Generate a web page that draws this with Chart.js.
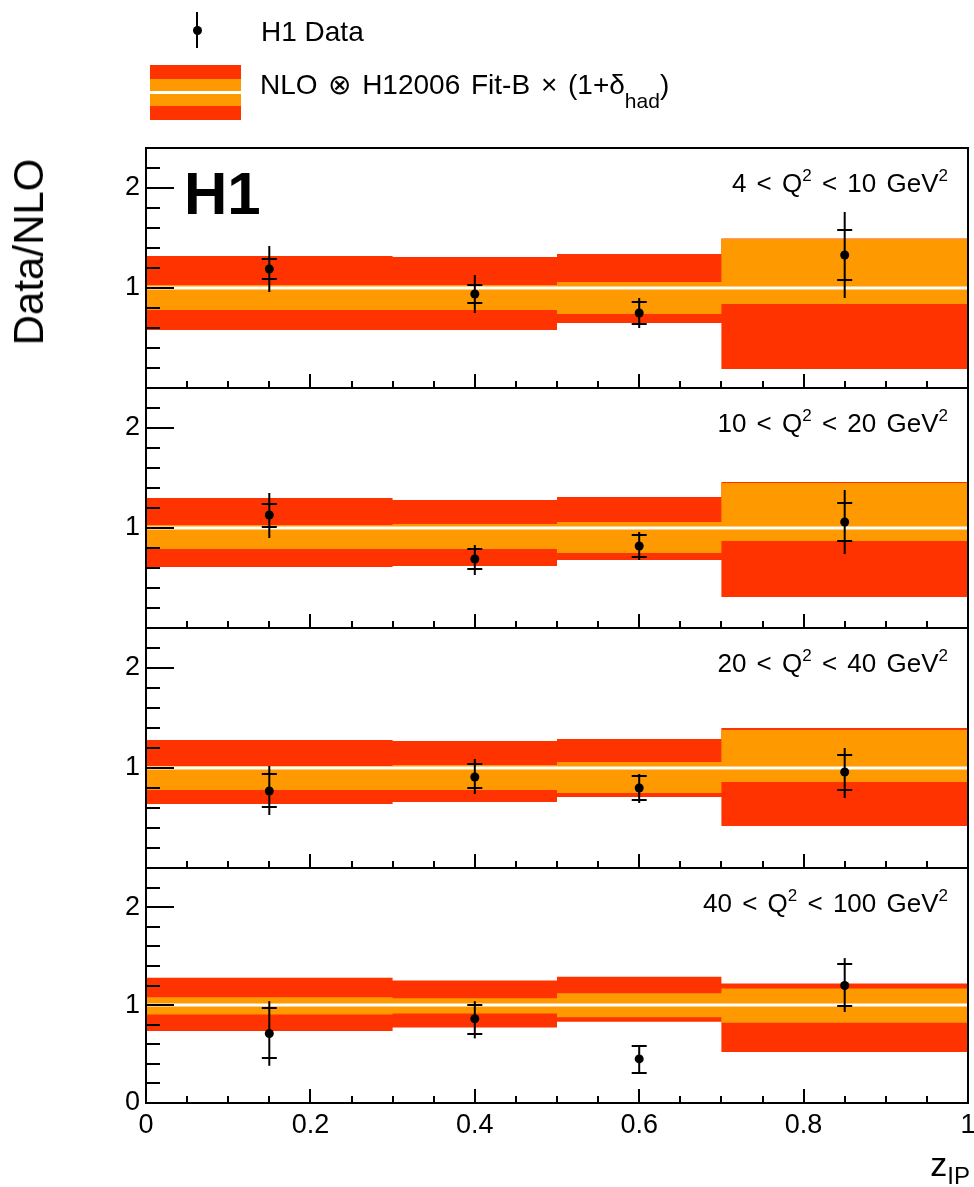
<!DOCTYPE html>
<html>
<head>
<meta charset="utf-8">
<script src="https://cdn.jsdelivr.net/npm/chart.js@4.4.0/dist/chart.umd.min.js"></script>
<style>
  body { margin: 0; background: #fff; width: 974px; height: 1187px; overflow: hidden;
         font-family: "Liberation Sans", Arial, sans-serif; }
  canvas { position: absolute; left: 0; top: 0; }
  .txt { position: absolute; white-space: nowrap; color: #000; line-height: 1; }
  .q2 { font-size: 26px; word-spacing: 3px; text-align: right; right: 26px; }
  .q2 sup { font-size: 17px; position: relative; top: -3px; vertical-align: top; }
</style>
</head>
<body>
<canvas id="p0" width="974" height="1187"></canvas>
<canvas id="p1" width="974" height="1187"></canvas>
<canvas id="p2" width="974" height="1187"></canvas>
<canvas id="p3" width="974" height="1187"></canvas>

<!-- legend -->
<div style="position:absolute;left:196px;top:12px;width:2px;height:36px;background:#000"></div>
<div style="position:absolute;left:192.5px;top:25.5px;width:9px;height:9px;border-radius:50%;background:#000"></div>
<div class="txt" style="left:261px;top:18px;font-size:28px">H1 Data</div>
<div style="position:absolute;left:150px;top:65px;width:91px;height:14px;background:#ff3300"></div>
<div style="position:absolute;left:150px;top:79px;width:91px;height:12px;background:#ff9900"></div>
<div style="position:absolute;left:150px;top:94px;width:91px;height:12px;background:#ff9900"></div>
<div style="position:absolute;left:150px;top:106px;width:91px;height:14px;background:#ff3300"></div>
<div class="txt" style="left:260px;top:71px;font-size:28px;word-spacing:3px">NLO ⊗ H12006 Fit-B × (1+δ<span style="font-size:21px;position:relative;top:14px;word-spacing:0">had</span>)</div>

<div class="txt" style="left:184px;top:164px;font-size:60px;font-weight:bold">H1</div>
<div class="txt" style="left:29px;top:252px;font-size:42px;transform:translate(-50%,-50%) rotate(-90deg)">Data/NLO</div>
<div class="txt" style="right:4px;top:1147px;font-size:34px">z<span style="font-size:24px;position:relative;top:8px">IP</span></div>
<div id="labels"></div>

<script>
// bins in z_IP and the point positions
const binEdges = [0, 0.3, 0.5, 0.7, 1.0];
const zPoints = [0.15, 0.4, 0.6, 0.85];

// Q^2 ranges of the four panels
const q2Low = [4, 10, 20, 40];
const q2High = [10, 20, 40, 100];

// Data/NLO ratio with stat (inner ticks) and total (full line) ranges
const ratio  = [[1.19, 0.94, 0.75, 1.33], [1.13, 0.69, 0.82, 1.06], [0.77, 0.91, 0.80, 0.96], [0.71, 0.86, 0.45, 1.20]];
const statHi = [[1.29, 1.03, 0.86, 1.58], [1.24, 0.79, 0.93, 1.25], [0.94, 1.04, 0.92, 1.13], [0.97, 1.00, 0.58, 1.42]];
const statLo = [[1.09, 0.85, 0.64, 1.08], [1.01, 0.59, 0.71, 0.87], [0.61, 0.80, 0.68, 0.78], [0.46, 0.70, 0.31, 0.99]];
const totHi  = [[1.42, 1.13, 0.90, 1.76], [1.35, 0.83, 0.96, 1.38], [1.02, 1.09, 0.94, 1.20], [1.04, 1.04, 0.58, 1.48]];
const totLo  = [[0.96, 0.75, 0.60, 0.90], [0.90, 0.53, 0.68, 0.74], [0.53, 0.74, 0.65, 0.70], [0.38, 0.66, 0.31, 0.93]];

// NLO bands: outer (red) and inner (orange)
const nloHi = [[1.32, 1.31, 1.34, 1.495], [1.30, 1.28, 1.31, 1.46], [1.28, 1.27, 1.29, 1.40], [1.28, 1.25, 1.29, 1.22]];
const nloLo = [[0.58, 0.58, 0.65, 0.19], [0.61, 0.62, 0.68, 0.31], [0.64, 0.66, 0.71, 0.42], [0.735, 0.77, 0.83, 0.52]];
const hadHi = [[1.03, 1.03, 1.06, 1.49], [1.03, 1.04, 1.06, 1.45], [1.02, 1.03, 1.06, 1.38], [1.08, 1.07, 1.12, 1.17]];
const hadLo = [[0.78, 0.78, 0.74, 0.84], [0.79, 0.79, 0.75, 0.87], [0.78, 0.78, 0.75, 0.86], [0.905, 0.915, 0.875, 0.82]];

const xTickLabels = ["0", "0.2", "0.4", "0.6", "0.8", "1"];
const yTickLabels = ["0", "1", "2"];

const RED = "#ff3300";
const ORANGE = "#ff9900";
const FONT = "'Liberation Sans', Arial, sans-serif";

const panelTop = [148, 388, 628, 868];
const panelBottom = [388, 628, 868, 1103];

function stepLine(vals) {
  const pts = [];
  vals.forEach((v, i) => {
    pts.push({ x: binEdges[i], y: v }, { x: binEdges[i + 1], y: v });
  });
  return pts;
}

// error bars: full line = total, small horizontal ticks = statistical
const errorBars = {
  id: "errorBars",
  afterDatasetsDraw(chart, args, opts) {
    const k = opts.panel;
    const { ctx } = chart;
    const x = chart.scales.x, y = chart.scales.y;
    ctx.save();
    ctx.strokeStyle = "#000";
    ctx.lineWidth = 2;
    zPoints.forEach((z, i) => {
      const px = x.getPixelForValue(z);
      ctx.beginPath();
      ctx.moveTo(px, y.getPixelForValue(totLo[k][i]));
      ctx.lineTo(px, y.getPixelForValue(totHi[k][i]));
      ctx.stroke();
      [statLo[k][i], statHi[k][i]].forEach((v) => {
        const py = Math.round(y.getPixelForValue(v));
        ctx.beginPath();
        ctx.moveTo(px - 7.5, py);
        ctx.lineTo(px + 7.5, py);
        ctx.stroke();
      });
    });
    ctx.restore();
  },
};

// ROOT style frame with ticks pointing inwards
const rootFrame = {
  id: "rootFrame",
  afterDraw(chart) {
    const { ctx, chartArea: a } = chart;
    const x = chart.scales.x, y = chart.scales.y;
    ctx.save();
    ctx.strokeStyle = "#000";
    ctx.lineWidth = 2;
    y.ticks.forEach((t) => {
      const v = t.value;
      if (v <= 0 || v >= 2.39) return;
      const major = Math.abs(v - Math.round(v)) < 1e-6;
      const py = Math.round(y.getPixelForValue(v));
      ctx.beginPath();
      ctx.moveTo(a.left, py);
      ctx.lineTo(a.left + (major ? 28 : 14), py);
      ctx.stroke();
    });
    x.ticks.forEach((t) => {
      const v = t.value;
      if (v <= 0 || v >= 0.999) return;
      const major = Math.abs(v * 5 - Math.round(v * 5)) < 1e-6;
      const px = Math.round(x.getPixelForValue(v));
      ctx.beginPath();
      ctx.moveTo(px, a.bottom);
      ctx.lineTo(px, a.bottom - (major ? 14 : 7));
      ctx.stroke();
    });
    ctx.strokeRect(a.left, a.top, a.right - a.left, a.bottom - a.top);
    ctx.restore();
  },
};

for (let k = 0; k < 4; k++) {
  const last = k === 3;
  const xh = last ? 60 : 0;
  new Chart(document.getElementById("p" + k), {
    type: "line",
    data: {
      datasets: [
        { data: stepLine(nloHi[k]), fill: "+1", backgroundColor: RED, borderColor: "rgba(0,0,0,0)", borderWidth: 0, pointRadius: 0, order: 3 },
        { data: stepLine(nloLo[k]), fill: false, borderColor: "rgba(0,0,0,0)", borderWidth: 0, pointRadius: 0, order: 3 },
        { data: stepLine(hadHi[k]), fill: "+1", backgroundColor: ORANGE, borderColor: "rgba(0,0,0,0)", borderWidth: 0, pointRadius: 0, order: 2 },
        { data: stepLine(hadLo[k]), fill: false, borderColor: "rgba(0,0,0,0)", borderWidth: 0, pointRadius: 0, order: 2 },
        { data: [{ x: 0, y: 1 }, { x: 1, y: 1 }], borderColor: "#fff", borderWidth: 3, pointRadius: 0, order: 1 },
        {
          data: zPoints.map((z, i) => ({ x: z, y: ratio[k][i] })),
          showLine: false, pointRadius: 4.5, pointBackgroundColor: "#000", pointBorderWidth: 0, order: 0,
        },
      ],
    },
    options: {
      responsive: false,
      animation: false,
      devicePixelRatio: 1,
      events: [],
      layout: { padding: { left: 0, right: 6, top: panelTop[k], bottom: 1187 - panelBottom[k] - xh } },
      plugins: {
        legend: { display: false },
        tooltip: { enabled: false },
        errorBars: { panel: k },
      },
      scales: {
        x: {
          type: "linear", min: 0, max: 1,
          grid: { display: false, drawTicks: false },
          border: { display: false },
          ticks: {
            stepSize: 0.05, autoSkip: false, maxRotation: 0, padding: 6,
            color: "#000", font: { family: FONT, size: 27 },
            callback: (v) => {
              if (!last) return "";
              return Math.abs(v * 5 - Math.round(v * 5)) < 1e-6 ? xTickLabels[Math.round(v * 5)] : "";
            },
          },
          afterFit: (s) => { s.height = xh; s.paddingLeft = 0; s.paddingRight = 0; },
        },
        y: {
          type: "linear", min: 0, max: 2.4,
          grid: { display: false, drawTicks: false },
          border: { display: false },
          ticks: {
            stepSize: 0.2, autoSkip: false, padding: 6,
            color: "#000", font: { family: FONT, size: 27 },
            callback: (v) => {
              if (Math.abs(v - Math.round(v)) > 1e-6) return "";
              const n = Math.round(v);
              if (n === 0 && !last) return "";
              return yTickLabels[n] || "";
            },
          },
          afterFit: (s) => { s.width = 146; s.paddingTop = 0; s.paddingBottom = 0; },
        },
      },
    },
    plugins: [errorBars, rootFrame],
  });
}

// Q^2 range labels
const labels = document.getElementById("labels");
q2Low.forEach((lo, k) => {
  const d = document.createElement("div");
  d.className = "txt q2";
  d.style.top = (panelTop[k] + 44 - 22) + "px";
  d.innerHTML = lo + " &lt; Q<sup>2</sup> &lt; " + q2High[k] + " GeV<sup>2</sup>";
  labels.appendChild(d);
});
</script>
</body>
</html>
